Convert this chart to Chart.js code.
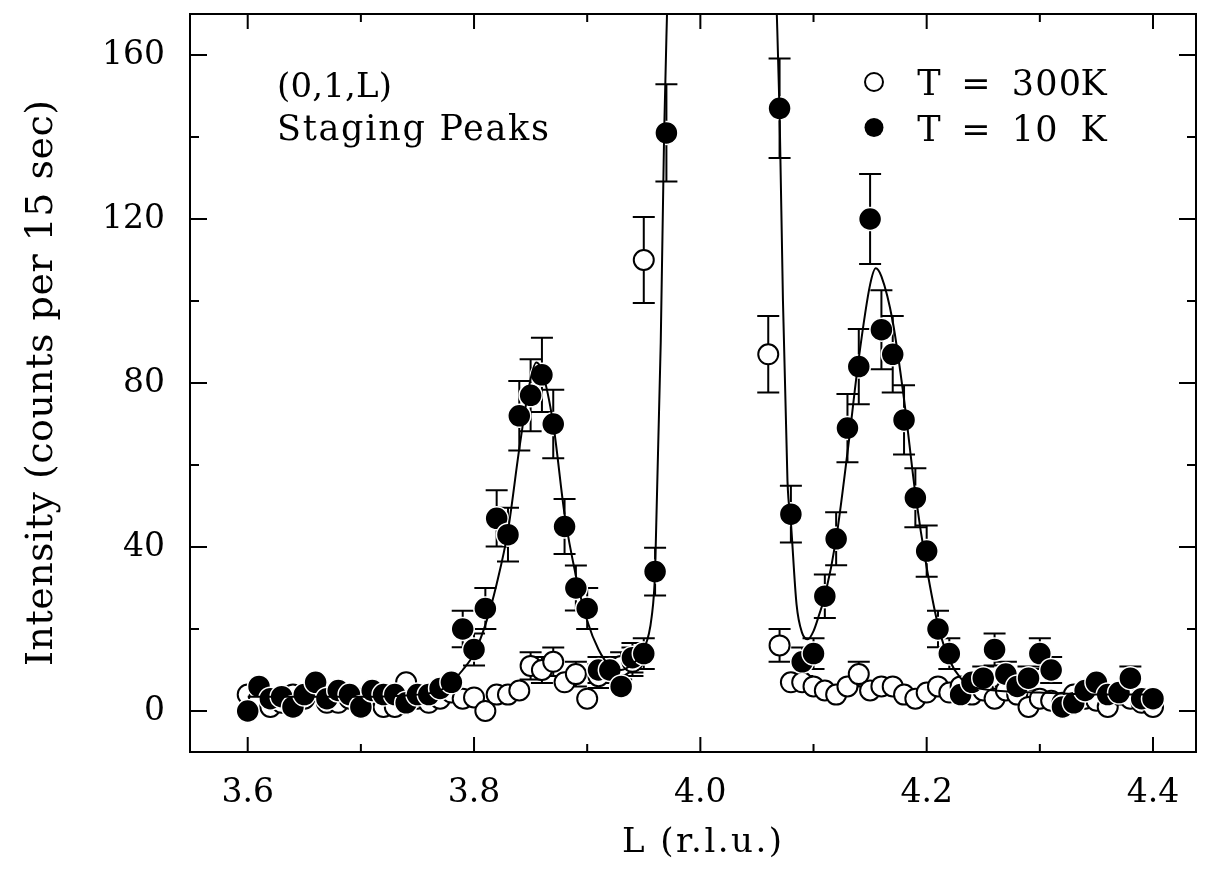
<!DOCTYPE html>
<html>
<head>
<meta charset="utf-8">
<script src="https://cdn.jsdelivr.net/npm/chart.js@4.4.1/dist/chart.umd.min.js"></script>
<style>
  html, body { margin: 0; padding: 0; background: #fff; }
  #wrap { width: 1209px; height: 877px; }
</style>
</head>
<body>
<div id="wrap"><canvas id="stagingChart" width="1209" height="877"></canvas></div>
<script>
// (0,1,L) scan, counts per 15 sec
const lValues = [
  3.60, 3.61, 3.62, 3.63, 3.64, 3.65, 3.66, 3.67, 3.68, 3.69,
  3.70, 3.71, 3.72, 3.73, 3.74, 3.75, 3.76, 3.77, 3.78, 3.79,
  3.80, 3.81, 3.82, 3.83, 3.84, 3.85, 3.86, 3.87, 3.88, 3.89,
  3.90, 3.91, 3.92, 3.93, 3.94, 3.95, 3.96, 3.97, 3.98, 3.99,
  4.00, 4.01, 4.02, 4.03, 4.04, 4.05, 4.06, 4.07, 4.08, 4.09,
  4.10, 4.11, 4.12, 4.13, 4.14, 4.15, 4.16, 4.17, 4.18, 4.19,
  4.20, 4.21, 4.22, 4.23, 4.24, 4.25, 4.26, 4.27, 4.28, 4.29,
  4.30, 4.31, 4.32, 4.33, 4.34, 4.35, 4.36, 4.37, 4.38, 4.39,
  4.40
];

// T = 300K (open circles)
const countsT300 = [
  4, 3, 1, 2, 4, 3, 5, 2, 2, 3,
  3, 4, 1, 1, 7, 3, 2, 3, 4.5, 3,
  3.3, 0, 4, 4, 5, 11, 10, 12, 7, 9,
  3, 8.5, 10, 11, 12, 110, null, null, null, null,
  null, null, null, null, null, null, 87, 16, 7, 7,
  6, 5, 4, 6, 9, 5, 6, 6, 4, 3,
  4.5, 6, 4.5, 6, 4, 5, 3, 5, 4, 1,
  3, 2.5, 2, 4, 3, 2.5, 1, 4, 3, 2,
  1
];

// T = 10 K (filled circles)
const countsT10 = [
  0, 6, 3, 3.5, 1, 4, 7, 3, 5, 4,
  1, 5, 4, 4, 2, 4, 4, 5.5, 7, 20,
  15, 25, 47, 43, 72, 77, 82, 70, 45, 30,
  25, 10, 10, 6, 13, 14, 34, 141, null, null,
  null, null, null, null, null, null, null, 147, 48, 12,
  14, 28, 42, 69, 84, 120, 93, 87, 71, 52,
  39, 20, 14, 4, 7, 8, 15, 9, 6, 8,
  14, 10, 1, 2, 5, 7, 4, 4.5, 8, 3,
  3
];

// fitted curve (goes off scale around L = 4.02)
const fitL = [
  3.60, 3.65, 3.70, 3.74, 3.76, 3.77, 3.78, 3.79, 3.80, 3.81,
  3.82, 3.83, 3.84, 3.85, 3.855, 3.86, 3.87, 3.88, 3.89, 3.90,
  3.91, 3.92, 3.93, 3.94, 3.95, 3.957, 3.96, 3.965, 3.968, 3.971,
  4.02,
  4.067, 4.07, 4.073, 4.077, 4.08, 4.085, 4.09, 4.095, 4.10,
  4.105, 4.11, 4.12, 4.13, 4.14, 4.15, 4.155, 4.16, 4.17, 4.18,
  4.19, 4.20, 4.21, 4.22, 4.23, 4.24, 4.26, 4.30, 4.35, 4.40
];
const fitCounts = [
  3.5, 3.5, 3.5, 3.8, 4.3, 5, 7, 10, 14, 21,
  31, 44, 64, 81, 85, 83, 70, 48, 33, 22,
  15, 11, 10, 11.5, 15, 23, 34, 90, 141, 175,
  null,
  175, 146, 100, 56, 46, 26, 19, 17.5, 19.5,
  23.5, 28, 42, 63, 86, 104, 108, 106, 95, 76,
  53, 35, 21, 12.5, 8, 6, 5, 4.5, 4, 4
];

const xMajorTicks = [3.6, 3.8, 4.0, 4.2, 4.4];
const xMinorTicks = [3.7, 3.9, 4.1, 4.3];
const yMajorTicks = [0, 40, 80, 120, 160];
const yMinorTicks = [20, 60, 100, 140];

const SERIF = "'DejaVu Serif', 'Liberation Serif', serif";
const MARKER_R = 11;

function toPoints(xs, ys) {
  return xs.map((x, i) => ({ x: x, y: ys[i] }));
}

// error bars = sqrt(counts), only where they stick out of the marker
const errorBars = {
  id: "errorBars",
  beforeDatasetsDraw(chart) {
    const { ctx } = chart;
    const x = chart.scales.x;
    const y = chart.scales.y;
    ctx.save();
    ctx.strokeStyle = "#000";
    ctx.lineWidth = 2;
    chart.data.datasets.forEach((ds) => {
      if (!ds.errorBars) return;
      ds.data.forEach((p) => {
        if (p.y === null) return;
        const err = Math.sqrt(p.y);
        const px = x.getPixelForValue(p.x);
        const py = y.getPixelForValue(p.y);
        const top = y.getPixelForValue(p.y + err);
        const bot = y.getPixelForValue(p.y - err);
        if (bot - py <= MARKER_R) return;
        ctx.beginPath();
        ctx.moveTo(px, top);
        ctx.lineTo(px, bot);
        ctx.moveTo(px - 11, top);
        ctx.lineTo(px + 11, top);
        ctx.moveTo(px - 11, bot);
        ctx.lineTo(px + 11, bot);
        ctx.stroke();
      });
    });
    ctx.restore();
  },
};

// box with inward ticks on all four sides
const frameBox = {
  id: "frameBox",
  afterDatasetsDraw(chart) {
    const { ctx, chartArea: a } = chart;
    const x = chart.scales.x;
    const y = chart.scales.y;
    ctx.save();
    ctx.strokeStyle = "#000";
    ctx.lineWidth = 2;
    ctx.strokeRect(a.left, a.top, a.right - a.left, a.bottom - a.top);
    ctx.beginPath();
    const xt = (v, len) => {
      const px = x.getPixelForValue(v);
      ctx.moveTo(px, a.bottom);
      ctx.lineTo(px, a.bottom - len);
      ctx.moveTo(px, a.top);
      ctx.lineTo(px, a.top + len);
    };
    const yt = (v, len) => {
      const py = y.getPixelForValue(v);
      ctx.moveTo(a.left, py);
      ctx.lineTo(a.left + len, py);
      ctx.moveTo(a.right, py);
      ctx.lineTo(a.right - len, py);
    };
    xMajorTicks.forEach((v) => xt(v, 15));
    xMinorTicks.forEach((v) => xt(v, 8));
    yMajorTicks.forEach((v) => yt(v, 17));
    yMinorTicks.forEach((v) => yt(v, 9));
    ctx.stroke();
    ctx.restore();
  },
};

function spacedText(ctx, text, x, y, width) {
  ctx.letterSpacing = "0px";
  const natural = ctx.measureText(text).width;
  const gap = text.length > 1 ? (width - natural) / (text.length - 1) : 0;
  ctx.letterSpacing = gap + "px";
  ctx.fillText(text, x, y);
  ctx.letterSpacing = "0px";
}

function monoText(ctx, text, firstCenter, y, pitch) {
  ctx.textAlign = "center";
  [...text].forEach((ch, i) => {
    if (ch !== " ") ctx.fillText(ch, firstCenter + i * pitch, y);
  });
}

// axis titles, labels and the key
const labelsAndKey = {
  id: "labelsAndKey",
  afterDraw(chart) {
    const { ctx, chartArea: a } = chart;
    ctx.save();
    ctx.fillStyle = "#000";
    ctx.textBaseline = "alphabetic";
    ctx.textAlign = "left";

    // x title
    ctx.font = "34px " + SERIF;
    spacedText(ctx, "L (r.l.u.)", 622, 852, 160);

    // y title
    ctx.save();
    ctx.translate(52, (a.top + a.bottom) / 2);
    ctx.rotate(-Math.PI / 2);
    ctx.font = "38px " + SERIF;
    spacedText(ctx, "Intensity (counts per 15 sec)", -283, 0, 566);
    ctx.restore();

    // label in the corner
    ctx.font = "34px " + SERIF;
    spacedText(ctx, "(0,1,L)", 277, 97, 115);
    ctx.font = "35px " + SERIF;
    spacedText(ctx, "Staging Peaks", 277, 140, 272);

    // key
    ctx.lineWidth = 2;
    ctx.strokeStyle = "#000";
    ctx.beginPath();
    ctx.arc(874, 82, 9, 0, Math.PI * 2);
    ctx.fillStyle = "#fff";
    ctx.fill();
    ctx.stroke();
    ctx.beginPath();
    ctx.arc(874, 127.5, 9.5, 0, Math.PI * 2);
    ctx.fillStyle = "#000";
    ctx.fill();
    ctx.font = "35px " + SERIF;
    monoText(ctx, "T = 300K", 929, 95, 23.5);
    monoText(ctx, "T = 10 K", 929, 141, 23.5);
    ctx.restore();
  },
};

new Chart(document.getElementById("stagingChart"), {
  type: "scatter",
  data: {
    datasets: [
      {
        label: "fit",
        type: "line",
        data: toPoints(fitL, fitCounts),
        borderColor: "#000",
        borderWidth: 2,
        pointRadius: 0,
        fill: false,
        spanGaps: false,
        cubicInterpolationMode: "monotone",
        order: 1,
      },
      {
        label: "T = 10 K",
        data: toPoints(lValues, countsT10),
        backgroundColor: "#000",
        borderColor: "#fff",
        borderWidth: 1.5,
        pointRadius: 11.5,
        errorBars: true,
        order: 2,
      },
      {
        label: "T = 300K",
        data: toPoints(lValues, countsT300),
        backgroundColor: "#fff",
        borderColor: "#000",
        borderWidth: 2,
        pointRadius: 10,
        errorBars: true,
        order: 3,
      },
    ],
  },
  options: {
    responsive: false,
    animation: false,
    layout: { padding: { top: 14, right: 11, left: 0, bottom: 0 } },
    plugins: {
      legend: { display: false },
      tooltip: { enabled: false },
      title: { display: false },
    },
    scales: {
      x: {
        type: "linear",
        min: 3.549,
        max: 4.438,
        grid: { display: false, drawTicks: false },
        border: { display: false },
        afterBuildTicks: (scale) => {
          scale.ticks = xMajorTicks.map((v) => ({ value: v }));
        },
        afterFit: (scale) => {
          scale.height = 125;
          scale.paddingLeft = 0;
          scale.paddingRight = 0;
        },
        ticks: {
          color: "#000",
          font: { family: SERIF, size: 33 },
          padding: 22,
          maxRotation: 0,
          callback: (v) => Number(v).toFixed(1),
        },
      },
      y: {
        min: -10,
        max: 170,
        grid: { display: false, drawTicks: false },
        border: { display: false },
        afterBuildTicks: (scale) => {
          scale.ticks = yMajorTicks.map((v) => ({ value: v }));
        },
        afterFit: (scale) => {
          scale.width = 190;
          scale.paddingTop = 0;
          scale.paddingBottom = 0;
        },
        ticks: {
          color: "#000",
          font: { family: SERIF, size: 33 },
          padding: 25,
        },
      },
    },
  },
  plugins: [errorBars, frameBox, labelsAndKey],
});
</script>
</body>
</html>
